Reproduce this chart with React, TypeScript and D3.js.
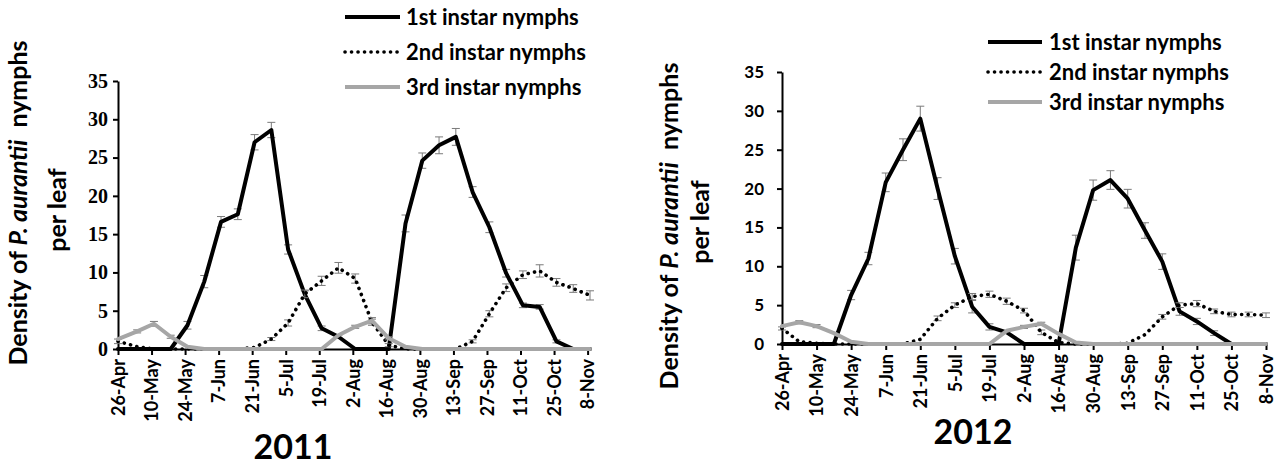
import React, { useEffect, useRef } from "react";
import * as d3 from "d3";

// sampling dates (weekly)
const dates2011 = [
  "2011-04-26", "2011-05-04", "2011-05-11", "2011-05-18", "2011-05-25", "2011-06-01", "2011-06-08",
  "2011-06-15", "2011-06-22", "2011-06-29", "2011-07-06", "2011-07-13", "2011-07-20", "2011-07-27",
  "2011-08-03", "2011-08-10", "2011-08-17", "2011-08-24", "2011-08-31", "2011-09-07", "2011-09-14",
  "2011-09-21", "2011-09-28", "2011-10-05", "2011-10-12", "2011-10-19", "2011-10-26", "2011-11-02",
  "2011-11-09",
];
const dates2012 = [
  "2012-04-26", "2012-05-03", "2012-05-10", "2012-05-17", "2012-05-24", "2012-05-31", "2012-06-07",
  "2012-06-14", "2012-06-21", "2012-06-28", "2012-07-05", "2012-07-12", "2012-07-19", "2012-07-26",
  "2012-08-02", "2012-08-09", "2012-08-16", "2012-08-23", "2012-08-30", "2012-09-06", "2012-09-13",
  "2012-09-20", "2012-09-27", "2012-10-04", "2012-10-11", "2012-10-18", "2012-10-25", "2012-11-01",
  "2012-11-08",
];

const first2011 = [0, 0, 0, 0, 3.1, 8.8, 16.6, 17.6, 27, 28.6, 13, 7.1, 2.7, 1.6, 0, 0, 0, 16.4, 24.6, 26.6, 27.7, 20.5, 15.9, 9.9, 5.7, 5.5, 1.0, 0, 0];
const firstErr2011 = [0, 0, 0, 0, 0.5, 0.8, 0.7, 0.7, 1.0, 1.0, 0.6, 0.5, 0.3, 0.2, 0, 0, 0, 1.1, 1.0, 1.1, 1.1, 0.7, 0.7, 0.5, 0.3, 0.3, 0.2, 0, 0];
const second2011 = [1.0, 0.3, 0, 0, 0, 0, 0, 0, 0.2, 1.3, 3.4, 7.2, 8.9, 10.6, 9.2, 3.5, 0.5, 0, 0, 0, 0, 1.0, 4.6, 8.0, 9.7, 10.2, 8.7, 7.9, 7.0];
const secondErr2011 = [0.3, 0, 0, 0, 0, 0, 0, 0, 0, 0.2, 0.4, 0.5, 0.6, 0.7, 0.6, 0.4, 0.2, 0, 0, 0, 0, 0.2, 0.4, 0.5, 0.5, 0.8, 0.5, 0.5, 0.6];
const third2011 = [1.3, 2.3, 3.3, 1.6, 0.3, 0, 0, 0, 0, 0, 0, 0, 0, 1.8, 2.9, 3.7, 1.4, 0.3, 0, 0, 0, 0, 0, 0, 0, 0, 0, 0, 0];
const thirdErr2011 = [0, 0.2, 0.3, 0.2, 0, 0, 0, 0, 0, 0, 0, 0, 0, 0, 0.2, 0.4, 0.2, 0, 0, 0, 0, 0, 0, 0, 0, 0, 0, 0, 0];

const first2012 = [0, 0, 0, 0, 6.3, 11, 20.8, 25, 29, 20, 11.3, 4.8, 2.2, 1.5, 0, 0, 0, 12.4, 19.8, 21.1, 18.7, 14.6, 10.6, 4.2, 2.9, 1.4, 0, 0, 0];
const firstErr2012 = [0, 0, 0, 0, 0.6, 0.8, 1.2, 1.4, 1.6, 1.4, 1.0, 0.8, 0.4, 0, 0, 0, 0, 1.6, 1.3, 1.2, 1.2, 1.0, 1.0, 0.5, 0.4, 0.3, 0, 0, 0];
const second2012 = [2.0, 0.3, 0.1, 0, 0, 0, 0, 0, 0.6, 3.3, 5.0, 6.1, 6.4, 5.5, 4.3, 1.5, 0.2, 0, 0, 0, 0.1, 1.2, 3.5, 5.0, 5.2, 4.2, 3.8, 3.8, 3.7];
const secondErr2012 = [0.2, 0, 0, 0, 0, 0, 0, 0, 0, 0.3, 0.3, 0.4, 0.4, 0.4, 0.3, 0.3, 0, 0, 0, 0, 0, 0, 0.3, 0.3, 0.4, 0.3, 0.3, 0.3, 0.3];
const third2012 = [2.3, 2.8, 2.3, 1.4, 0.3, 0, 0, 0, 0, 0, 0, 0, 0, 1.7, 2.2, 2.6, 1.3, 0.2, 0, 0, 0, 0, 0, 0, 0, 0, 0, 0, 0];
const thirdErr2012 = [0, 0.2, 0.2, 0, 0, 0, 0, 0, 0, 0, 0, 0, 0, 0, 0.2, 0.2, 0, 0, 0, 0, 0, 0, 0, 0, 0, 0, 0, 0, 0];

const legendLabels = ["1st instar nymphs", "2nd instar nymphs", "3rd instar nymphs"];
const yTicks = [0, 5, 10, 15, 20, 25, 30, 35];

const parse = d3.timeParse("%Y-%m-%d");
const fmt = d3.timeFormat("%-d-%b");
const SANS = "Lato, 'Open Sans', sans-serif";

const styles = [
  { stroke: "#000", width: 4, dash: null },
  { stroke: "#000", width: 3.6, dash: "0.1 6.4" },
  { stroke: "#a6a6a6", width: 4, dash: null },
];

const panels = [
  {
    year: "2011", dates: dates2011, start: "2011-04-26", end: "2011-11-09",
    series: [first2011, second2011, third2011], errs: [firstErr2011, secondErr2011, thirdErr2011],
    left: 118, right: 590, top: 81, bottom: 349,
    yFont: "'Liberation Serif', serif", yFontSize: 20, yPad: 5,
    t1: [27, 203, 325], t2: [66, 210], leg: { x1: 345, x2: 400, tx: 406, ys: [17, 52, 87] },
    title: [293, 459],
  },
  {
    year: "2012", dates: dates2012, start: "2012-04-26", end: "2012-11-08",
    series: [first2012, second2012, third2012], errs: [firstErr2012, secondErr2012, thirdErr2012],
    left: 782, right: 1266, top: 72, bottom: 344,
    yFont: SANS, yFontSize: 17, yPad: 13,
    t1: [678, 226, 327], t2: [709, 222], leg: { x1: 988, x2: 1042, tx: 1049, ys: [42, 72, 102] },
    title: [973, 444],
  },
];

const Panel = ({ cfg }) => {
  const ref = useRef(null);

  useEffect(() => {
    const g = d3.select(ref.current);
    g.selectAll("*").remove();

    const start = parse(cfg.start), end = parse(cfg.end);
    const x = d3.scaleTime().domain([start, end]).range([cfg.left, cfg.right]);
    const y = d3.scaleLinear().domain([0, 35]).range([cfg.bottom, cfg.top]);
    const ticks = d3.range(15).map(i => d3.timeDay.offset(start, 14 * i));

    // axes
    const ya = g.append("g").attr("transform", `translate(${cfg.left},0)`)
      .call(d3.axisLeft(y).tickValues(yTicks).tickSize(5).tickSizeOuter(0).tickPadding(cfg.yPad));
    ya.select(".domain").attr("stroke-width", 2);
    ya.selectAll(".tick line").attr("stroke-width", 2);
    ya.selectAll("text").attr("font-family", cfg.yFont).attr("font-size", cfg.yFontSize)
      .attr("font-weight", "bold").attr("fill", "#000");

    const xa = g.append("g").attr("transform", `translate(0,${cfg.bottom})`)
      .call(d3.axisBottom(x).tickValues(ticks).tickFormat(fmt).tickSize(6).tickSizeOuter(0));
    xa.select(".domain").attr("stroke-width", 2);
    xa.selectAll(".tick line").attr("stroke-width", 2);
    xa.selectAll("text")
      .attr("transform", "rotate(-90)").attr("text-anchor", "end")
      .attr("x", -10).attr("y", 0).attr("dy", "0.35em")
      .attr("font-family", SANS).attr("font-size", 18).attr("font-weight", "bold").attr("fill", "#000");

    const line = d3.line().x(d => x(d.date)).y(d => y(d.v));

    cfg.series.forEach((vals, si) => {
      const pts = vals.map((v, i) => ({ date: parse(cfg.dates[i]), v, e: cfg.errs[si][i] }));
      const eb = pts.filter(p => p.e > 0);
      const eg = g.append("g").attr("stroke", "#7a7a7a").attr("stroke-width", 1);
      eg.selectAll("line.v").data(eb).enter().append("line")
        .attr("x1", d => x(d.date)).attr("x2", d => x(d.date))
        .attr("y1", d => y(d.v + d.e)).attr("y2", d => y(Math.max(0, d.v - d.e)));
      eg.selectAll("line.t").data(eb).enter().append("line")
        .attr("x1", d => x(d.date) - 4).attr("x2", d => x(d.date) + 4)
        .attr("y1", d => y(d.v + d.e)).attr("y2", d => y(d.v + d.e));
      eg.selectAll("line.b").data(eb).enter().append("line")
        .attr("x1", d => x(d.date) - 4).attr("x2", d => x(d.date) + 4)
        .attr("y1", d => y(Math.max(0, d.v - d.e))).attr("y2", d => y(Math.max(0, d.v - d.e)));

      const st = styles[si];
      g.append("path").datum(pts).attr("d", line).attr("fill", "none")
        .attr("stroke", st.stroke).attr("stroke-width", st.width)
        .attr("stroke-linejoin", "round").attr("stroke-linecap", "round")
        .attr("stroke-dasharray", st.dash);
    });

    // legend
    legendLabels.forEach((lab, i) => {
      const st = styles[i];
      const ly = cfg.leg.ys[i];
      g.append("line").attr("x1", cfg.leg.x1).attr("x2", cfg.leg.x2).attr("y1", ly).attr("y2", ly)
        .attr("stroke", st.stroke).attr("stroke-width", st.width)
        .attr("stroke-linecap", st.dash ? "round" : "butt")
        .attr("stroke-dasharray", st.dash);
      g.append("text").attr("x", cfg.leg.tx).attr("y", ly).attr("dy", "0.35em")
        .attr("font-family", SANS).attr("font-size", 22).attr("font-weight", "bold").text(lab);
    });

    // y title
    const t1 = g.append("text").attr("transform", `translate(${cfg.t1[0]},${cfg.t1[1]}) rotate(-90)`)
      .attr("text-anchor", "middle").attr("font-family", SANS).attr("font-size", 25).attr("font-weight", "bold")
      .attr("textLength", cfg.t1[2]).attr("lengthAdjust", "spacing");
    t1.append("tspan").text("Density of ");
    t1.append("tspan").attr("font-style", "italic").text("P. aurantii");
    t1.append("tspan").text("\u00a0 nymphs");
    g.append("text").attr("transform", `translate(${cfg.t2[0]},${cfg.t2[1]}) rotate(-90)`)
      .attr("text-anchor", "middle").attr("font-family", SANS).attr("font-size", 25).attr("font-weight", "bold")
      .text("per leaf");

    g.append("text").attr("x", cfg.title[0]).attr("y", cfg.title[1]).attr("text-anchor", "middle")
      .attr("font-family", SANS).attr("font-size", 34).attr("font-weight", "bold").text(cfg.year);
  }, [cfg]);

  return <g ref={ref}></g>;
};

const App = () => (
  <svg width={1282} height={468} style={{ position: "absolute", left: 0, top: 0, background: "#fff" }}>
    {panels.map(p => <Panel key={p.year} cfg={p} />)}
  </svg>
);

export default App;
